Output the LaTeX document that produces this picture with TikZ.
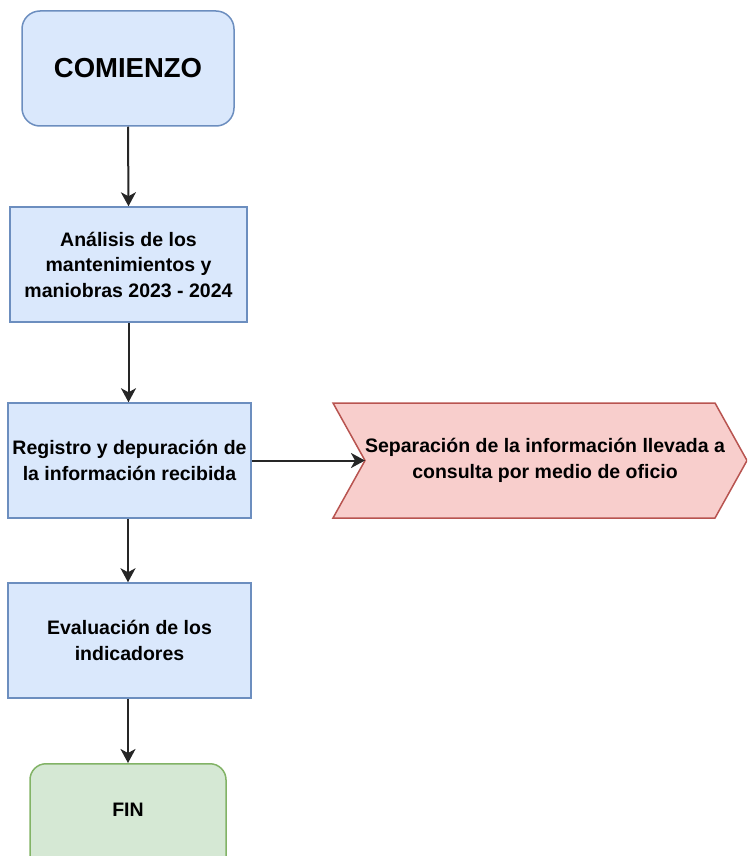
\documentclass[tikz,border=0pt]{standalone}
\usepackage{fontspec}
\setmainfont{Liberation Sans}
\usetikzlibrary{arrows.meta}
\definecolor{bluefill}{HTML}{DAE8FC}
\definecolor{bluedraw}{HTML}{6C8EBF}
\definecolor{redfill}{HTML}{F8CECC}
\definecolor{reddraw}{HTML}{B85450}
\definecolor{greenfill}{HTML}{D5E8D4}
\definecolor{greendraw}{HTML}{82B366}
\tikzset{
  txt/.style={font=\fontsize{19.5}{25.5}\selectfont\bfseries, align=center, text=black},
  bluebox/.style={txt, draw=bluedraw, fill=bluefill, line width=1.5pt, inner sep=0pt},
  startbox/.style={bluebox, rounded corners=18pt},
  endbox/.style={txt, draw=greendraw, fill=greenfill, line width=1.5pt, rounded corners=16pt, inner sep=0pt},
  chev/.style={draw=reddraw, fill=redfill, line width=1.5pt},
  conn/.style={draw=black!85, line width=2pt, -{Stealth[length=14pt,width=15pt,inset=4pt]}}
}
\begin{document}
\begin{tikzpicture}[x=1pt,y=-1pt]
\useasboundingbox (0,0) rectangle (747,856);
\begin{scope}
\clip (0,0) rectangle (747,856);
\node[startbox, minimum width=212pt, minimum height=115pt, font=\fontsize{27.5}{30}\selectfont\bfseries] (start) at (128,68.5) {COMIENZO};
\node[bluebox, minimum width=237pt, minimum height=115pt] (ana) at (128.5,264.5) {Análisis de los\\mantenimientos y\\maniobras 2023 - 2024};
\node[bluebox, minimum width=243pt, minimum height=115pt] (reg) at (129.5,460.5) {Registro y depuración de\\la información recibida};
\draw[chev] (333,403) -- (715,403) -- (747,460.5) -- (715,518) -- (333,518) -- (365,460.5) -- cycle;
\coordinate (notch) at (365,460.5);
\node[txt] (sep) at (545,460.5) {Separación de la información llevada a\\consulta por medio de oficio};
\node[bluebox, minimum width=243pt, minimum height=115pt] (eva) at (129.5,640.5) {Evaluación de los\\indicadores};
\node[endbox, minimum width=196pt, minimum height=115pt, anchor=north] (fin) at (128,763) {};
\node[txt] (fintxt) at (128,810) {FIN};
\end{scope}
\draw[conn] (start.south) -- (ana.north);
\draw[conn] (ana.south) -- (reg.north -| ana.south);
\draw[conn] (reg.east) -- (notch);
\draw[conn] (reg.south -| start.south) -- (eva.north -| start.south);
\draw[conn] (eva.south -| start.south) -- (fin.north);
\end{tikzpicture}
\end{document}
